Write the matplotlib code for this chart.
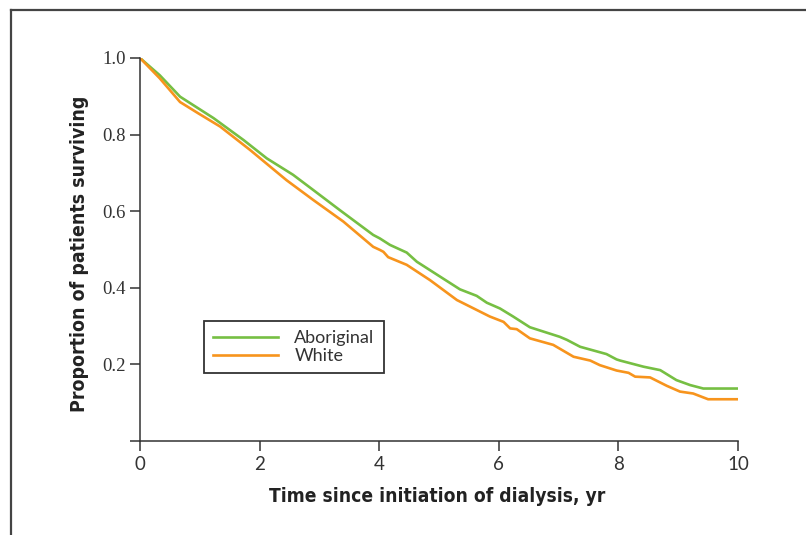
import matplotlib.pyplot as plt
import matplotlib.lines as mlines
from matplotlib import font_manager

# survival curves (time in years, proportion surviving)
t_abor = [0, 0.33, 0.67, 0.98, 1.23, 1.73, 2.12, 2.56, 2.90, 3.34, 3.90, 4.01, 4.18,
          4.46, 4.63, 5.02, 5.35, 5.63, 5.80, 6.02, 6.24, 6.52, 7.02, 7.14, 7.36,
          7.80, 7.97, 8.03, 8.42, 8.70, 8.97, 9.20, 9.42, 10.0]
s_abor = [1.0, 0.955, 0.899, 0.868, 0.843, 0.786, 0.738, 0.695, 0.655, 0.603, 0.538,
          0.529, 0.512, 0.492, 0.468, 0.429, 0.396, 0.379, 0.361, 0.346, 0.325, 0.297,
          0.272, 0.264, 0.246, 0.227, 0.213, 0.210, 0.194, 0.185, 0.159, 0.146, 0.137, 0.137]

t_white = [0, 0.33, 0.67, 0.98, 1.34, 1.84, 2.45, 2.90, 3.40, 3.90, 4.01, 4.07, 4.15,
           4.46, 4.85, 5.30, 5.85, 6.08, 6.19, 6.30, 6.52, 6.91, 7.25, 7.53, 7.69,
           7.97, 8.17, 8.28, 8.53, 8.81, 9.03, 9.25, 9.50, 10.0]
s_white = [1.0, 0.947, 0.885, 0.855, 0.821, 0.760, 0.681, 0.629, 0.573, 0.507, 0.499,
           0.494, 0.480, 0.460, 0.420, 0.368, 0.325, 0.311, 0.294, 0.292, 0.268, 0.251,
           0.220, 0.210, 0.198, 0.184, 0.178, 0.168, 0.166, 0.144, 0.129, 0.124, 0.109, 0.109]

labels = ['Aboriginal', 'White']
x_ticks = [0, 2, 4, 6, 8, 10]
y_ticks = [0, 0.2, 0.4, 0.6, 0.8, 1.0]
y_ticklabels = ['', '0.2', '0.4', '0.6', '0.8', '1.0']

green = '#76bf43'
orange = '#f7941d'
dark = '#333333'
W, H = 806, 535

# condensed bold face for axis titles if the system has one
cond = font_manager.FontProperties(family='DejaVu Sans', stretch='condensed', weight='bold')
cond_path = font_manager.findfont(cond)
if 'Condensed' in cond_path:
    title_font = font_manager.FontProperties(fname=cond_path)
else:
    title_font = font_manager.FontProperties(family='Lato', weight='bold')

fig = plt.figure(figsize=(W / 100, H / 100), dpi=100)
ax = fig.add_axes([140 / W, 1 - 441 / H, 598 / W, 383 / H])

ax.plot(t_abor, s_abor, color=green, lw=1.9, label=labels[0])
ax.plot(t_white, s_white, color=orange, lw=1.9, label=labels[1])

ax.set_xlim(0, 10)
ax.set_ylim(0, 1.0)
ax.set_xticks(x_ticks)
ax.set_xticklabels([str(v) for v in x_ticks], family='Lato', fontsize=13.5, color=dark)
ax.set_yticks(y_ticks)
ax.set_yticklabels(y_ticklabels, family='Liberation Serif', fontsize=13.5, color=dark)
ax.tick_params(direction='out', length=7.5, width=1.1, color=dark, pad=3)

for side in ['top', 'right']:
    ax.spines[side].set_visible(False)
for side in ['left', 'bottom']:
    ax.spines[side].set_linewidth(1.1)
    ax.spines[side].set_color(dark)

leg = ax.legend(loc='upper left', bbox_to_anchor=(0.107, 0.313), borderaxespad=0,
                fancybox=False, framealpha=1, edgecolor=dark, handlelength=3.6,
                labelspacing=0.1, borderpad=0.5, handletextpad=0.9,
                prop={'family': 'Lato', 'size': 13})
leg.get_frame().set_linewidth(1.3)
for txt in leg.get_texts():
    txt.set_color(dark)

xl = fig.text(437 / W, 1 - 497 / H, 'Time since initiation of dialysis, yr', ha='center',
              va='center', fontproperties=title_font, color='#222222')
yl = fig.text(80 / W, 1 - 254 / H, 'Proportion of patients surviving', ha='center',
              va='center', rotation=90, fontproperties=title_font, color='#222222')

# size the titles so they span the same length as in the original
renderer = fig.canvas.get_renderer()
for txt, target in [(xl, 335), (yl, 317)]:
    txt.set_fontsize(15)
    bb = txt.get_window_extent(renderer)
    length = bb.width if txt.get_rotation() == 0 else bb.height
    txt.set_fontsize(15 * target / length)

# frame around the figure (top and left edges visible)
fig.add_artist(mlines.Line2D([11 / W, 1], [1 - 10 / H, 1 - 10 / H], color='#444444', lw=1.6))
fig.add_artist(mlines.Line2D([11 / W, 11 / W], [0, 1 - 10 / H], color='#444444', lw=1.6))

fig.savefig('out.png', dpi=100)
